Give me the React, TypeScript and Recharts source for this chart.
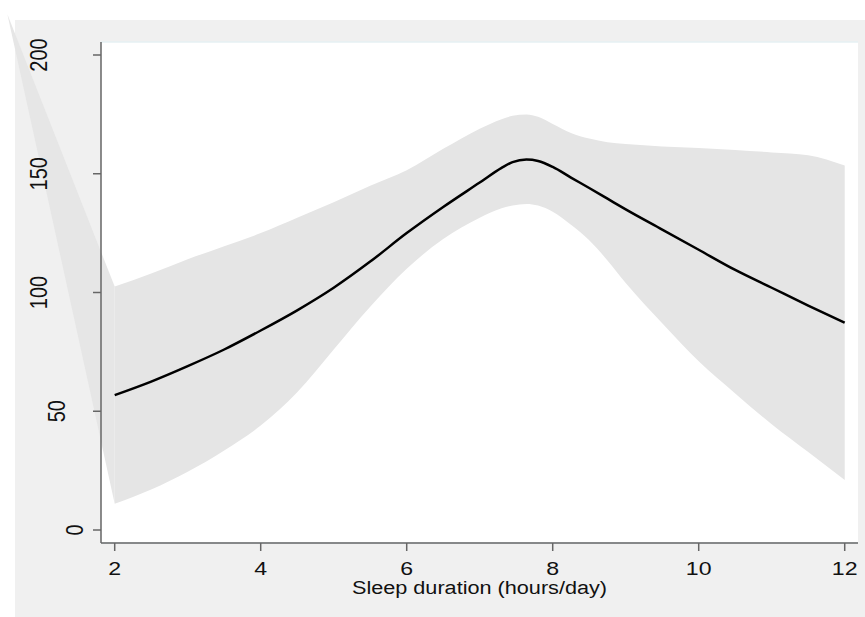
import { ComposedChart, Line, Area, XAxis, YAxis, CartesianGrid } from 'recharts'

// sleep duration (hours/day)
const hours = [2, 2.5, 3, 3.5, 4, 4.5, 5, 5.5, 6, 6.5, 7, 7.3, 7.45, 7.64, 7.8, 8, 8.25, 8.5, 8.75, 9, 9.5, 10, 10.5, 11, 11.5, 12]
const fitted = [56.8, 62.5, 69, 76, 84, 92.5, 102, 113, 125, 136, 146.3, 152.5, 154.9, 156, 155.4, 152.9, 148.4, 144, 139.5, 135, 126.5, 118, 109.5, 102, 94.5, 87.3]
const upper = [102.5, 108, 114, 119.5, 125, 131.5, 138, 145, 151.5, 160.5, 169, 173, 174.4, 175, 174, 171, 167.2, 164.8, 163.3, 162.5, 161.5, 160.8, 160, 159, 157.8, 153.5]
const lower = [11, 17, 24.5, 33.5, 44, 58, 76, 94, 110, 122.5, 131.5, 135.5, 136.6, 137.3, 136.6, 134, 128.5, 122, 113.5, 104, 87, 71, 57.5, 44.5, 32.8, 21]

// stray piece of the band that runs off to the top left
const strayX = 0.53
const strayY = 217.2

const xTicks = [2, 4, 6, 8, 10, 12]
const yTicks = [0, 50, 100, 150, 200]

const data = [
  { x: strayX, stray: [strayY, strayY] },
  ...hours.map((h, i) => ({
    x: h,
    fit: fitted[i],
    band: [lower[i], upper[i]],
    stray: i === 0 ? [lower[i], upper[i]] : undefined,
  })),
]

const FONT = '"Liberation Sans", Arial, Helvetica, sans-serif'
const W = 865
const H = 617

const XTick = (props: any) => {
  const { x, y, payload } = props
  return (
    <text
      transform={`translate(${x},${y + 22}) scale(1.25,1)`}
      textAnchor="middle"
      fontSize={18.5}
      fontFamily={FONT}
      fill="#111"
    >
      {payload.value}
    </text>
  )
}

const YTick = (props: any) => {
  const { x, y, payload } = props
  const label = String(payload.value)
  const bx = x - 46 + (3 - label.length) * 17.8
  return (
    <text
      transform={`translate(${bx},${y}) rotate(-90) scale(1,1.2)`}
      textAnchor="middle"
      fontSize={20}
      fontFamily={FONT}
      fill="#111"
    >
      {label}
    </text>
  )
}

const XLabel = (props: any) => {
  const vb = props.viewBox
  return (
    <text
      transform={`translate(${vb.x + vb.width / 2},${vb.y + 50.5}) scale(1.14,1)`}
      textAnchor="middle"
      fontSize={19}
      fontFamily={FONT}
      fill="#111"
    >
      Sleep duration (hours/day)
    </text>
  )
}

// same plot frame twice: once for the white region + grid (under the band),
// once for the axes and labels (over the band)
function Frame({ axes }: { axes: boolean }) {
  return (
    <div style={{ position: 'absolute', left: 0, top: 0 }}>
      <ComposedChart width={W} height={H} data={data} margin={{ top: 42, right: 7, bottom: 14, left: 15 }}>
        {!axes && <CartesianGrid fill="#ffffff" vertical={false} stroke="#e6f0f3" strokeWidth={1.5} />}
        <XAxis
          type="number"
          dataKey="x"
          domain={[1.8123, 12.182]}
          allowDataOverflow
          ticks={xTicks}
          height={60}
          stroke="#666"
          strokeWidth={1.5}
          tickSize={8}
          tickMargin={2}
          axisLine={axes}
          tickLine={axes}
          tick={axes ? <XTick /> : false}
          label={axes ? { content: <XLabel /> } : undefined}
        />
        <YAxis
          type="number"
          domain={[-5.47, 205.47]}
          allowDataOverflow
          ticks={yTicks}
          width={86}
          stroke="#666"
          strokeWidth={1.5}
          tickSize={8}
          tickMargin={0}
          axisLine={axes}
          tickLine={axes}
          tick={axes ? <YTick /> : false}
        />
      </ComposedChart>
    </div>
  )
}

export default function App() {
  return (
    <div style={{ position: 'absolute', left: 0, top: 0, width: W, height: H, background: '#fff' }}>
      <div style={{ position: 'absolute', left: 15, top: 20, width: 850, height: 597, background: '#f0f0f0' }} />

      <Frame axes={false} />

      {/* band and fitted line, on a wider plot area so nothing is clipped */}
      <div style={{ position: 'absolute', left: 0, top: 0 }}>
        <ComposedChart width={W} height={H} data={data} margin={{ top: 14, right: 7, bottom: 74, left: 7 }}>
          <XAxis type="number" dataKey="x" domain={[0.5247, 12.182]} hide />
          <YAxis type="number" domain={[-5.474, 217.263]} hide />
          <Area
            dataKey="stray"
            type="linear"
            fill="#e6e6e6"
            fillOpacity={1}
            stroke="none"
            isAnimationActive={false}
          />
          <Area
            dataKey="band"
            type="monotone"
            fill="#e5e5e5"
            fillOpacity={1}
            stroke="none"
            isAnimationActive={false}
          />
          <Line
            dataKey="fit"
            type="monotone"
            stroke="#000"
            strokeWidth={2.5}
            dot={false}
            isAnimationActive={false}
          />
        </ComposedChart>
      </div>

      <Frame axes={true} />
    </div>
  )
}
